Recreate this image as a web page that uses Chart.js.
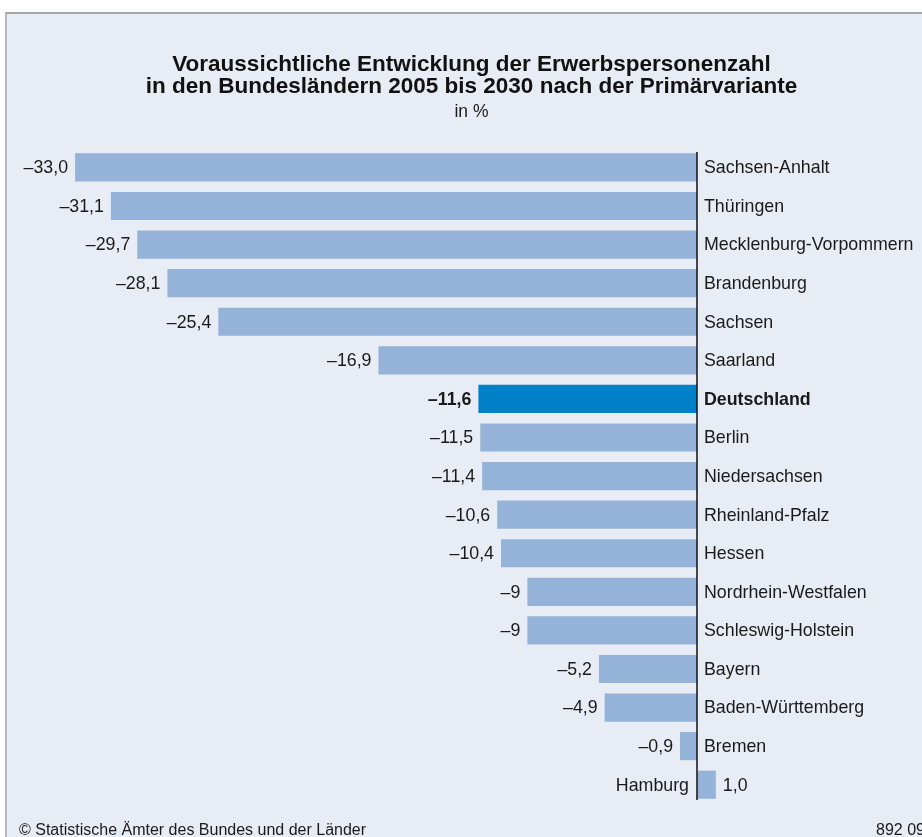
<!DOCTYPE html>
<html lang="de">
<head>
<meta charset="utf-8">
<title>Erwerbspersonenzahl 2005 bis 2030</title>
<script src="https://cdn.jsdelivr.net/npm/chart.js@4/dist/chart.umd.min.js"></script>
<style>
  html, body { margin: 0; padding: 0; background: #fff; }
  #wrap {
    position: absolute; left: 5px; top: 12px; right: 0; bottom: 0;
    background: #e8ecf5;
    border-top: 2px solid #a6a6a6;
    border-left: 2px solid #b8b8b8;
  }
  canvas { display: block; }
</style>
</head>
<body>
<div id="wrap"><canvas id="chart" width="915" height="823"></canvas></div>
<script>
const laender = [
  'Sachsen-Anhalt', 'Thüringen', 'Mecklenburg-Vorpommern', 'Brandenburg', 'Sachsen',
  'Saarland', 'Deutschland', 'Berlin', 'Niedersachsen', 'Rheinland-Pfalz', 'Hessen',
  'Nordrhein-Westfalen', 'Schleswig-Holstein', 'Bayern', 'Baden-Württemberg', 'Bremen', 'Hamburg'
];
const veraenderung = [
  -33.0, -31.1, -29.7, -28.1, -25.4, -16.9, -11.6, -11.5, -11.4, -10.6, -10.4,
  -9, -9, -5.2, -4.9, -0.9, 1.0
];
const wertLabels = [
  '–33,0', '–31,1', '–29,7', '–28,1', '–25,4', '–16,9', '–11,6', '–11,5', '–11,4', '–10,6', '–10,4',
  '–9', '–9', '–5,2', '–4,9', '–0,9', '1,0'
];
const highlight = 'Deutschland';

const FONT = '"Liberation Sans", Arial, sans-serif';
const barColors = laender.map(l => l === highlight ? '#0080c6' : '#95b3d9');

// zero line, value labels, Länder names and footer
const labelPlugin = {
  id: 'labels',
  afterDatasetsDraw(chart) {
    const { ctx, chartArea } = chart;
    const x = chart.scales.x;
    const meta = chart.getDatasetMeta(0);
    const x0 = x.getPixelForValue(0);

    ctx.save();
    ctx.strokeStyle = '#111';
    ctx.lineWidth = 1.5;
    ctx.beginPath();
    ctx.moveTo(x0, chartArea.top + 4);
    ctx.lineTo(x0, chartArea.bottom - 4);
    ctx.stroke();

    ctx.fillStyle = '#1a1a1a';
    ctx.textBaseline = 'middle';
    meta.data.forEach((bar, i) => {
      const bold = laender[i] === highlight ? 'bold ' : '';
      ctx.font = bold + '17.8px ' + FONT;
      const y = bar.y + 1;
      if (veraenderung[i] < 0) {
        ctx.textAlign = 'right';
        ctx.fillText(wertLabels[i], bar.x - 7, y);
        ctx.textAlign = 'left';
        ctx.fillText(laender[i], x0 + 7, y);
      } else {
        ctx.textAlign = 'left';
        ctx.fillText(wertLabels[i], bar.x + 7, y);
        ctx.textAlign = 'right';
        ctx.fillText(laender[i], x0 - 8, y);
      }
    });

    ctx.font = '16px ' + FONT;
    ctx.textBaseline = 'alphabetic';
    ctx.textAlign = 'left';
    ctx.fillText('© Statistische Ämter des Bundes und der Länder', 12, 821);
    ctx.fillText('892 09', 869, 821);
    ctx.restore();
  }
};

new Chart(document.getElementById('chart'), {
  type: 'bar',
  data: {
    labels: laender,
    datasets: [{
      data: veraenderung,
      backgroundColor: barColors,
      borderWidth: 0,
      barPercentage: 0.73,
      categoryPercentage: 1
    }]
  },
  options: {
    indexAxis: 'y',
    responsive: false,
    animation: false,
    layout: { padding: { left: 14, right: 0, top: 0, bottom: 33 } },
    scales: {
      x: { display: false, min: -35.87, max: 11.94 },
      y: { display: false }
    },
    plugins: {
      legend: { display: false },
      tooltip: { enabled: false },
      title: {
        display: true,
        text: ['Voraussichtliche Entwicklung der Erwerbspersonenzahl',
               'in den Bundesländern 2005 bis 2030 nach der Primärvariante'],
        color: '#111',
        font: { family: FONT, size: 22.5, weight: 'bold', lineHeight: 0.98 },
        padding: { top: 40, bottom: 4 }
      },
      subtitle: {
        display: true,
        text: 'in %',
        color: '#1a1a1a',
        font: { family: FONT, size: 17.5, lineHeight: 1.2 },
        padding: { top: 0, bottom: 25 }
      }
    }
  },
  plugins: [labelPlugin]
});
</script>
</body>
</html>
